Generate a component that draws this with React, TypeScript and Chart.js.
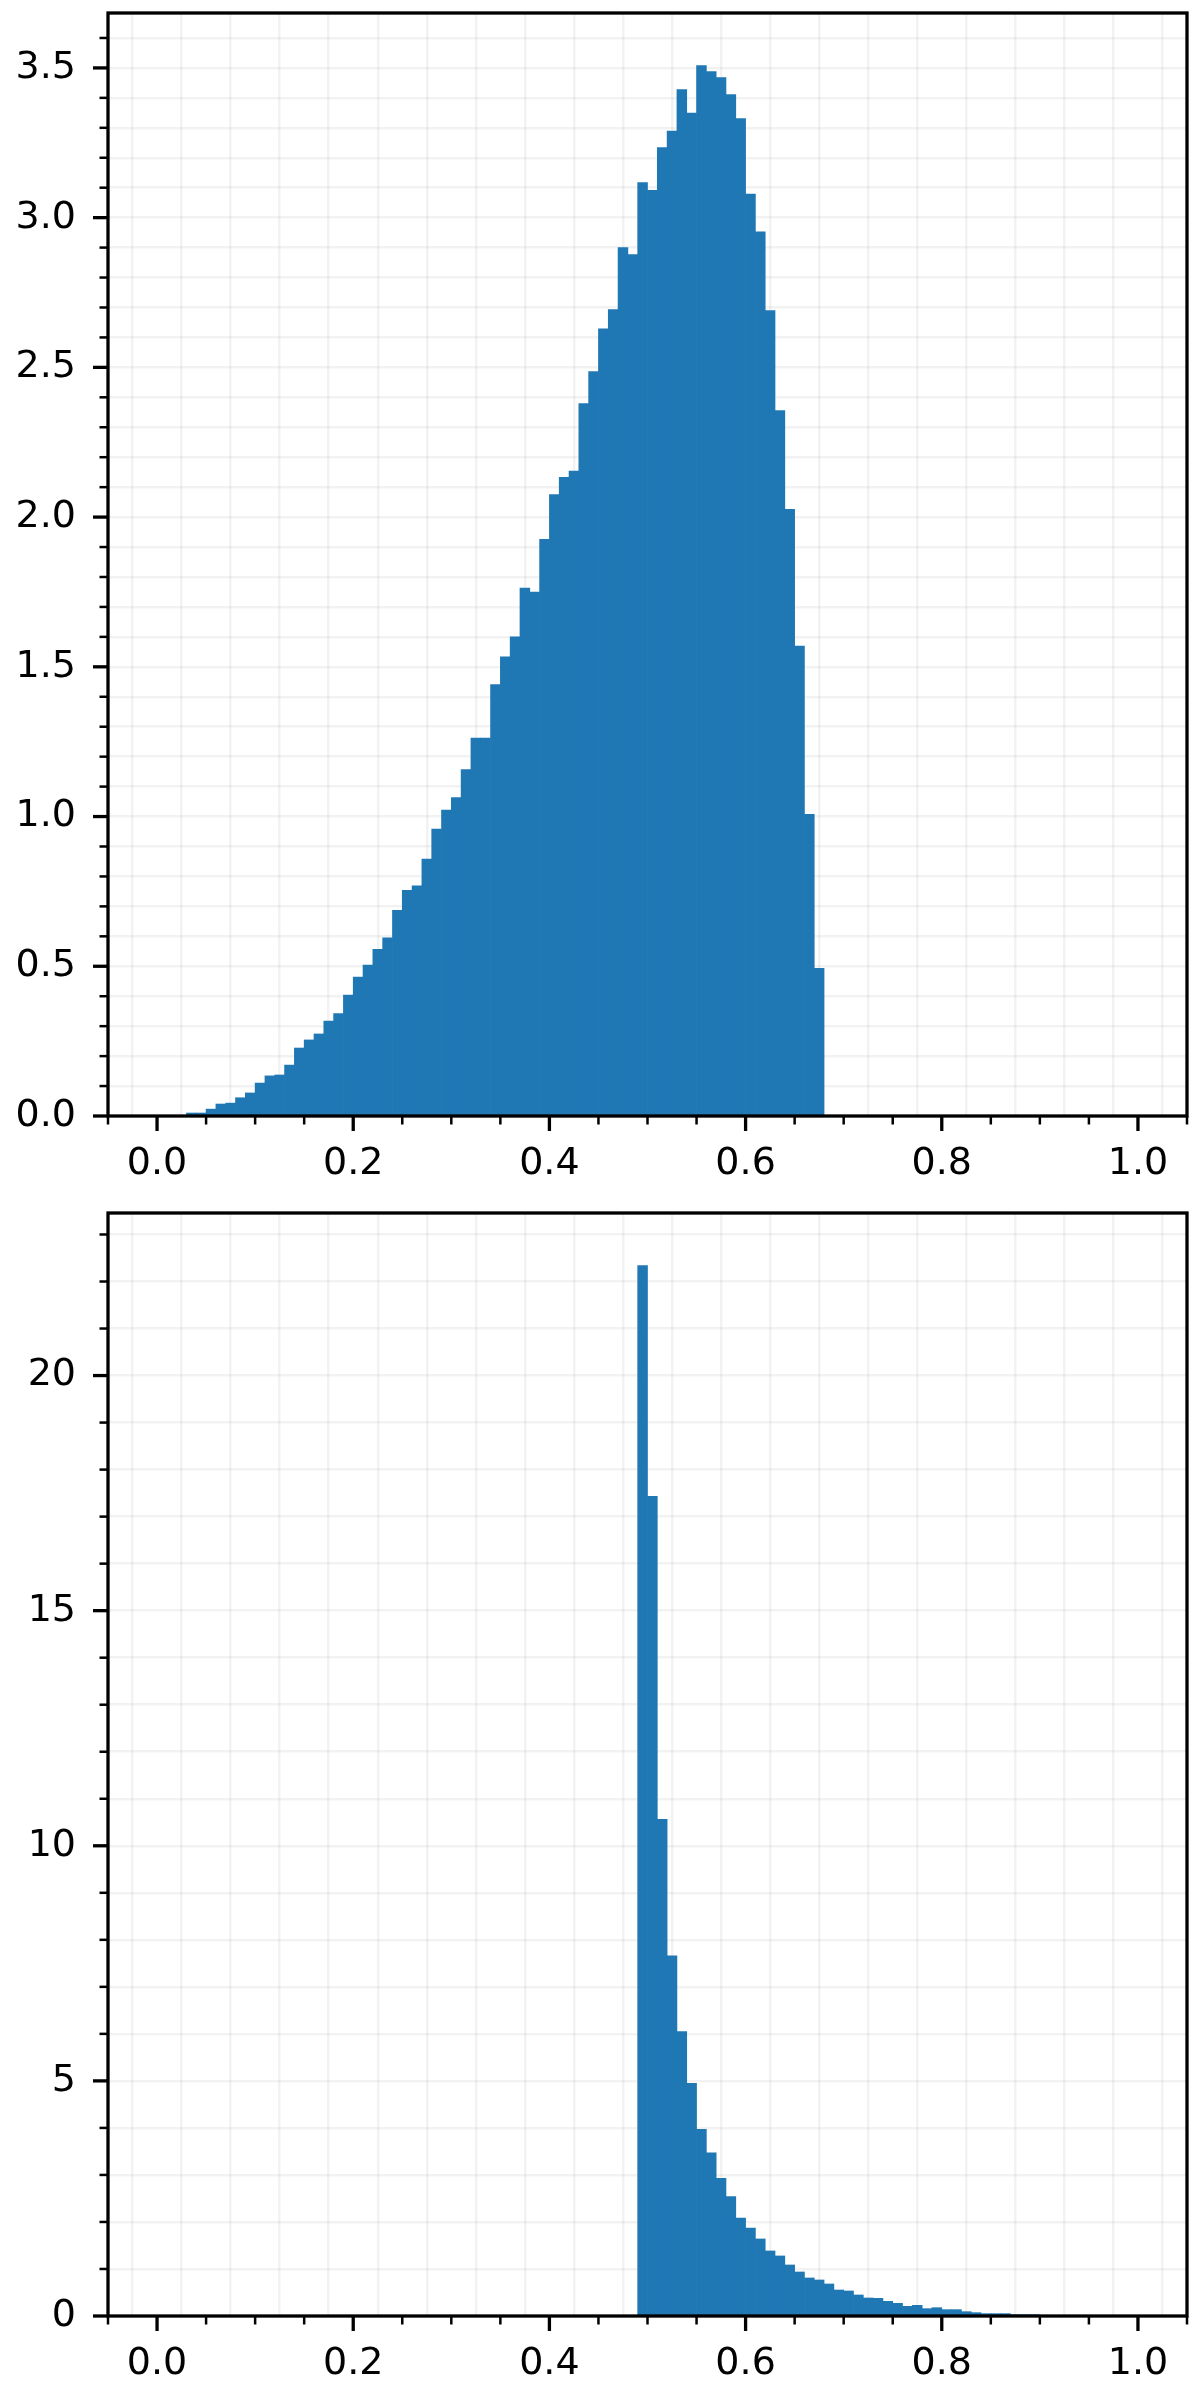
import { useEffect, useRef } from 'react';
import { Chart, registerables } from 'chart.js';

Chart.register(...registerables);

// ---- data ----
const BIN_WIDTH = 0.01;

const topFirstBinStart = 0.03;
const topDensity = [
  0.010, 0.010, 0.023, 0.040, 0.043, 0.061, 0.077, 0.110, 0.134, 0.137,
  0.170, 0.227, 0.254, 0.274, 0.317, 0.342, 0.404, 0.464, 0.504,
  0.557, 0.595, 0.687, 0.754, 0.769, 0.858, 0.958, 1.022, 1.063, 1.157,
  1.262, 1.262, 1.441, 1.533, 1.600, 1.763, 1.750, 1.926, 2.075, 2.133,
  2.154, 2.379, 2.486, 2.629, 2.693, 2.900, 2.877, 3.117, 3.091, 3.234,
  3.289, 3.428, 3.349, 3.508, 3.488, 3.468, 3.411, 3.331, 3.079, 2.953,
  2.690, 2.356, 2.026, 1.569, 1.007, 0.493,
];

const bottomFirstBinStart = 0.49;
const bottomDensity = [
  22.34, 17.43, 10.56, 7.66, 6.05, 4.95, 3.97, 3.47, 2.93, 2.54,
  2.085, 1.872, 1.638, 1.383, 1.277, 1.085, 0.936, 0.809, 0.766, 0.681,
  0.553, 0.532, 0.447, 0.383, 0.376, 0.312, 0.27, 0.206, 0.227, 0.156,
  0.177, 0.135, 0.135, 0.092, 0.071, 0.05, 0.05, 0.05, 0.028, 0.014, 0.014,
];

const xMajorTicks = [0, 0.2, 0.4, 0.6, 0.8, 1.0];
const xTickLabels = ['0.0', '0.2', '0.4', '0.6', '0.8', '1.0'];
const topYMajorTicks = [0, 0.5, 1.0, 1.5, 2.0, 2.5, 3.0, 3.5];
const topYTickLabels = ['0.0', '0.5', '1.0', '1.5', '2.0', '2.5', '3.0', '3.5'];
const bottomYMajorTicks = [0, 5, 10, 15, 20];
const bottomYTickLabels = ['0', '5', '10', '15', '20'];

// ---- helpers ----
const majorIndex = (v: number, majors: number[]) =>
  majors.findIndex((m) => Math.abs(v - m) < 1e-7);

const mplAxesPlugin = {
  id: 'mplAxes',
  afterDraw(chart: any, _args: any, opts: any) {
    const { ctx, chartArea } = chart;
    const { left, right, top, bottom } = chartArea;
    const xs = chart.scales.x;
    const ys = chart.scales.y;
    ctx.save();
    ctx.strokeStyle = '#000';
    ctx.lineCap = 'butt';
    for (const t of xs.ticks) {
      const px = xs.getPixelForValue(t.value);
      const major = majorIndex(t.value, opts.xMajor) >= 0;
      ctx.lineWidth = major ? 3.3 : 2.5;
      const len = major ? 15 : 8.5;
      ctx.beginPath();
      ctx.moveTo(px, bottom);
      ctx.lineTo(px, bottom + len);
      ctx.stroke();
    }
    for (const t of ys.ticks) {
      const py = ys.getPixelForValue(t.value);
      const major = majorIndex(t.value, opts.yMajor) >= 0;
      ctx.lineWidth = major ? 3.3 : 2.5;
      const len = major ? 15 : 8.5;
      ctx.beginPath();
      ctx.moveTo(left, py);
      ctx.lineTo(left - len, py);
      ctx.stroke();
    }
    ctx.lineWidth = 3.3;
    ctx.lineJoin = 'miter';
    ctx.strokeRect(left, top, right - left, bottom - top);
    ctx.restore();
  },
};

const FONT = { family: 'DejaVu Sans', size: 38 };
const GRID_COLOR = 'rgba(176,176,176,0.16)';

function makeConfig(
  firstBin: number,
  density: number[],
  yStep: number,
  yMajor: number[],
  yLabels: string[]
): any {
  const points = density.map((d, i) => ({
    x: firstBin + (i + 0.5) * BIN_WIDTH,
    y: d,
  }));
  const yMax = Math.max(...density) * 1.05;
  return {
    type: 'bar',
    data: {
      datasets: [
        {
          data: points,
          backgroundColor: '#1f77b4',
          borderWidth: 0,
          barPercentage: 1,
          categoryPercentage: 1,
          grouped: false,
        },
      ],
    },
    plugins: [mplAxesPlugin],
    options: {
      animation: false,
      responsive: false,
      maintainAspectRatio: false,
      events: [],
      layout: { padding: { top: 13, right: 13, left: 0, bottom: 0 } },
      plugins: {
        legend: { display: false },
        tooltip: { enabled: false },
        mplAxes: { xMajor: xMajorTicks, yMajor },
      },
      scales: {
        x: {
          type: 'linear',
          offset: false,
          min: -0.05,
          max: 1.05,
          z: 1,
          border: { display: false },
          grid: { color: GRID_COLOR, lineWidth: 2.5, drawTicks: false },
          afterFit: (s: any) => {
            s.height = 84;
            s.paddingLeft = 0;
            s.paddingRight = 0;
            s.paddingTop = 0;
            s.paddingBottom = 0;
          },
          ticks: {
            stepSize: 0.05,
            includeBounds: false,
            autoSkip: false,
            maxRotation: 0,
            minRotation: 0,
            padding: 25,
            color: '#000',
            font: FONT,
            callback: (v: number) => {
              const i = majorIndex(v, xMajorTicks);
              return i >= 0 ? xTickLabels[i] : '';
            },
          },
        },
        y: {
          type: 'linear',
          min: 0,
          max: yMax,
          z: 1,
          border: { display: false },
          grid: { color: GRID_COLOR, lineWidth: 2.5, drawTicks: false },
          afterFit: (s: any) => {
            s.width = 108;
            s.paddingLeft = 0;
            s.paddingRight = 0;
            s.paddingTop = 0;
            s.paddingBottom = 0;
          },
          ticks: {
            stepSize: yStep,
            includeBounds: false,
            autoSkip: false,
            padding: 32,
            color: '#000',
            font: FONT,
            callback: (v: number) => {
              const i = majorIndex(v, yMajor);
              return i >= 0 ? yLabels[i] : '';
            },
          },
        },
      },
    },
  };
}

function Hist({ cfg }: { cfg: () => any }) {
  const ref = useRef<HTMLCanvasElement | null>(null);
  useEffect(() => {
    if (!ref.current) return;
    const chart = new Chart(ref.current, cfg());
    return () => chart.destroy();
  }, [cfg]);
  return (
    <canvas
      ref={ref}
      width={1200}
      height={1200}
      style={{ display: 'block', width: 1200, height: 1200 }}
    />
  );
}

const topCfg = () =>
  makeConfig(topFirstBinStart, topDensity, 0.1, topYMajorTicks, topYTickLabels);
const bottomCfg = () =>
  makeConfig(bottomFirstBinStart, bottomDensity, 1, bottomYMajorTicks, bottomYTickLabels);

export default function App() {
  return (
    <div
      style={{
        position: 'absolute',
        left: 0,
        top: 0,
        width: 1200,
        height: 2400,
        background: '#fff',
      }}
    >
      <Hist cfg={topCfg} />
      <Hist cfg={bottomCfg} />
    </div>
  );
}
